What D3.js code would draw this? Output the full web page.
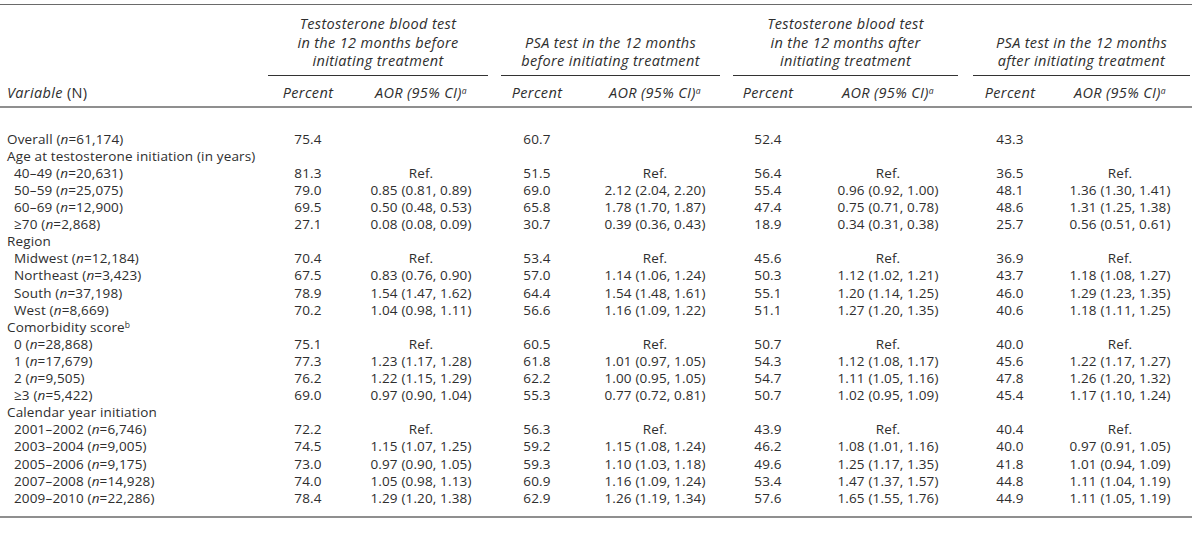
<!DOCTYPE html>
<html>
<head>
<meta charset="utf-8">
<script src="https://cdn.jsdelivr.net/npm/d3@7"></script>
<style>
  html, body { margin: 0; padding: 0; background: #fff; }
  svg { display: block; }
  text { font-family: "Open Sans", Lato, sans-serif; font-size: 13.5px; letter-spacing: 0.15px; fill: #2e2e2e; }
  text.hdr { font-style: italic; font-size: 14.5px; letter-spacing: 0.35px; }
</style>
</head>
<body>
<svg id="chart" width="1200" height="536"></svg>
<script>
// ---------- data ----------
const variables = ["Overall", "Age at testosterone initiation (in years)", "40–49", "50–59", "60–69", "≥70",
  "Region", "Midwest", "Northeast", "South", "West",
  "Comorbidity score", "0", "1", "2", "≥3",
  "Calendar year initiation", "2001–2002", "2003–2004", "2005–2006", "2007–2008", "2009–2010"];
const sampleN = ["61,174", null, "20,631", "25,075", "12,900", "2,868",
  null, "12,184", "3,423", "37,198", "8,669",
  null, "28,868", "17,679", "9,505", "5,422",
  null, "6,746", "9,005", "9,175", "14,928", "22,286"];
const indentLevel = [0, 0, 1, 1, 1, 1, 0, 1, 1, 1, 1, 0, 1, 1, 1, 1, 0, 1, 1, 1, 1, 1];
const labelSup = [null, null, null, null, null, null, null, null, null, null, null, "b", null, null, null, null, null, null, null, null, null, null];

const groupTitles = [
  ["Testosterone blood test", "in the 12 months before", "initiating treatment"],
  ["PSA test in the 12 months", "before initiating treatment"],
  ["Testosterone blood test", "in the 12 months after", "initiating treatment"],
  ["PSA test in the 12 months", "after initiating treatment"]
];

const tbBeforePct = [75.4, null, 81.3, 79.0, 69.5, 27.1, null, 70.4, 67.5, 78.9, 70.2, null, 75.1, 77.3, 76.2, 69.0, null, 72.2, 74.5, 73.0, 74.0, 78.4];
const tbBeforeAOR = [null, null, "Ref.", "0.85 (0.81, 0.89)", "0.50 (0.48, 0.53)", "0.08 (0.08, 0.09)", null, "Ref.", "0.83 (0.76, 0.90)", "1.54 (1.47, 1.62)", "1.04 (0.98, 1.11)", null, "Ref.", "1.23 (1.17, 1.28)", "1.22 (1.15, 1.29)", "0.97 (0.90, 1.04)", null, "Ref.", "1.15 (1.07, 1.25)", "0.97 (0.90, 1.05)", "1.05 (0.98, 1.13)", "1.29 (1.20, 1.38)"];
const psaBeforePct = [60.7, null, 51.5, 69.0, 65.8, 30.7, null, 53.4, 57.0, 64.4, 56.6, null, 60.5, 61.8, 62.2, 55.3, null, 56.3, 59.2, 59.3, 60.9, 62.9];
const psaBeforeAOR = [null, null, "Ref.", "2.12 (2.04, 2.20)", "1.78 (1.70, 1.87)", "0.39 (0.36, 0.43)", null, "Ref.", "1.14 (1.06, 1.24)", "1.54 (1.48, 1.61)", "1.16 (1.09, 1.22)", null, "Ref.", "1.01 (0.97, 1.05)", "1.00 (0.95, 1.05)", "0.77 (0.72, 0.81)", null, "Ref.", "1.15 (1.08, 1.24)", "1.10 (1.03, 1.18)", "1.16 (1.09, 1.24)", "1.26 (1.19, 1.34)"];
const tbAfterPct = [52.4, null, 56.4, 55.4, 47.4, 18.9, null, 45.6, 50.3, 55.1, 51.1, null, 50.7, 54.3, 54.7, 50.7, null, 43.9, 46.2, 49.6, 53.4, 57.6];
const tbAfterAOR = [null, null, "Ref.", "0.96 (0.92, 1.00)", "0.75 (0.71, 0.78)", "0.34 (0.31, 0.38)", null, "Ref.", "1.12 (1.02, 1.21)", "1.20 (1.14, 1.25)", "1.27 (1.20, 1.35)", null, "Ref.", "1.12 (1.08, 1.17)", "1.11 (1.05, 1.16)", "1.02 (0.95, 1.09)", null, "Ref.", "1.08 (1.01, 1.16)", "1.25 (1.17, 1.35)", "1.47 (1.37, 1.57)", "1.65 (1.55, 1.76)"];
const psaAfterPct = [43.3, null, 36.5, 48.1, 48.6, 25.7, null, 36.9, 43.7, 46.0, 40.6, null, 40.0, 45.6, 47.8, 45.4, null, 40.4, 40.0, 41.8, 44.8, 44.9];
const psaAfterAOR = [null, null, "Ref.", "1.36 (1.30, 1.41)", "1.31 (1.25, 1.38)", "0.56 (0.51, 0.61)", null, "Ref.", "1.18 (1.08, 1.27)", "1.29 (1.23, 1.35)", "1.18 (1.11, 1.25)", null, "Ref.", "1.22 (1.17, 1.27)", "1.26 (1.20, 1.32)", "1.17 (1.10, 1.24)", null, "Ref.", "0.97 (0.91, 1.05)", "1.01 (0.94, 1.09)", "1.11 (1.04, 1.19)", "1.11 (1.05, 1.19)"];

const columnKeys = ["p1", "a1", "p2", "a2", "p3", "a3", "p4", "a4"];
const columnValues = [tbBeforePct, tbBeforeAOR, psaBeforePct, psaBeforeAOR, tbAfterPct, tbAfterAOR, psaAfterPct, psaAfterAOR];

// ---------- layout ----------
const svg = d3.select("#chart");
const fmtPct = d3.format(".1f");

const colX = d3.scaleOrdinal().domain(columnKeys).range([308, 421, 537, 655, 768, 888, 1010, 1120]);
const groupSpan = [[268, 488], [501, 720], [733, 958], [973, 1190]];
const rowY = d3.scaleLinear().domain([0, variables.length - 1]).range([139, 498]);

const ruleColor = "#6a6a6a";

// rules
svg.append("line").attr("x1", 0).attr("x2", 1192).attr("y1", 4.5).attr("y2", 4.5)
  .attr("stroke", ruleColor).attr("stroke-width", 1);
svg.append("line").attr("x1", 0).attr("x2", 1192).attr("y1", 107).attr("y2", 107)
  .attr("stroke", ruleColor).attr("stroke-width", 1.5);
svg.append("line").attr("x1", 0).attr("x2", 1192).attr("y1", 517).attr("y2", 517)
  .attr("stroke", ruleColor).attr("stroke-width", 1.5);

// group headers
groupTitles.forEach((lines, gi) => {
  const [x0, x1] = groupSpan[gi];
  const cx = (x0 + x1) / 2;
  const lineH = 18.5;
  const lastY = 61;
  lines.forEach((t, li) => {
    svg.append("text")
      .attr("class", "hdr")
      .attr("x", cx)
      .attr("y", lastY - (lines.length - 1 - li) * lineH)
      .attr("dy", "0.35em")
      .attr("text-anchor", "middle")
      .text(t);
  });
  svg.append("line").attr("x1", x0).attr("x2", x1).attr("y1", 75.5).attr("y2", 75.5)
    .attr("stroke", "#333").attr("stroke-width", 1);
});

// sub headers
const subY = 93;
const vh = svg.append("text").attr("class", "hdr").attr("x", 7).attr("y", subY).attr("dy", "0.35em");
vh.append("tspan").text("Variable");
vh.append("tspan").style("font-style", "normal").text(" (N)");

columnKeys.forEach((k, i) => {
  const t = svg.append("text").attr("class", "hdr").attr("x", colX(k)).attr("y", subY).attr("dy", "0.35em")
    .attr("text-anchor", "middle");
  if (i % 2 === 0) {
    t.text("Percent");
  } else {
    t.append("tspan").text("AOR (95% CI)");
    t.append("tspan").attr("dy", "-0.45em").style("font-size", "8.5px").text("a");
  }
});

// row labels
variables.forEach((v, i) => {
  const t = svg.append("text")
    .attr("x", indentLevel[i] ? 14 : 7)
    .attr("y", rowY(i))
    .attr("dy", "0.35em");
  t.append("tspan").text(v);
  if (labelSup[i]) {
    t.append("tspan").attr("dy", "-0.45em").style("font-size", "8.5px").text(labelSup[i]);
  }
  if (sampleN[i]) {
    t.append("tspan").attr("dy", labelSup[i] ? "0.45em" : null).text(" (");
    t.append("tspan").style("font-style", "italic").text("n");
    t.append("tspan").text("=" + sampleN[i] + ")");
  }
});

// cells
columnKeys.forEach((k, ci) => {
  const vals = columnValues[ci];
  svg.append("g").selectAll("text")
    .data(vals.map((v, i) => ({ v, i })).filter(d => d.v !== null))
    .join("text")
    .attr("x", colX(k))
    .attr("y", d => rowY(d.i))
    .attr("dy", "0.35em")
    .attr("text-anchor", "middle")
    .text(d => typeof d.v === "number" ? fmtPct(d.v) : d.v);
});
</script>
</body>
</html>
